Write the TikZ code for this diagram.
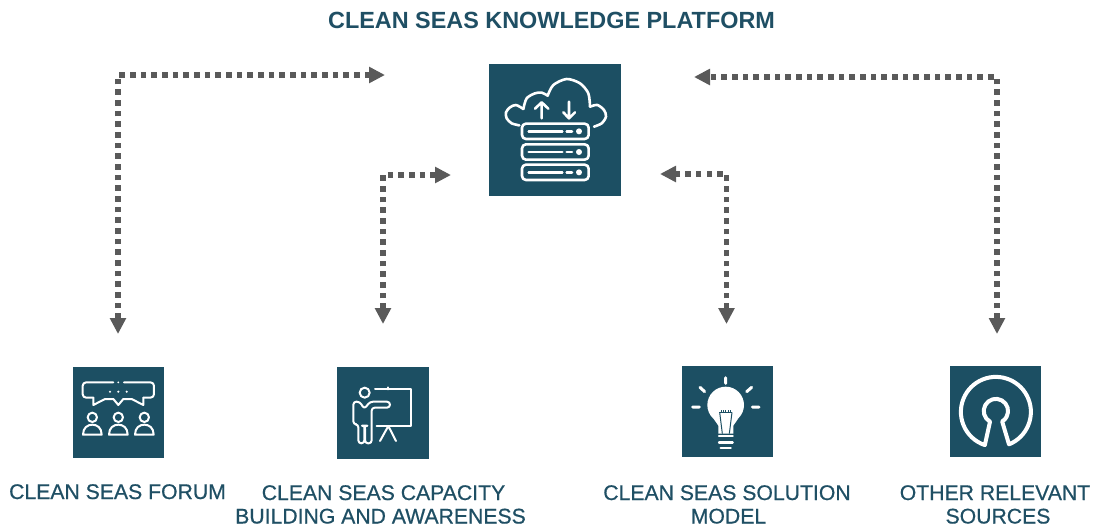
\documentclass[tikz,border=0pt]{standalone}
\usepackage{fontspec}
\setmainfont{Liberation Sans}
\newfontfamily\medfont[RawFeature={embolden=0.6}]{Liberation Sans}
\usetikzlibrary{arrows.meta}
\definecolor{teal}{HTML}{1C4F63}
\definecolor{ink}{HTML}{1F4F64}
\definecolor{arrowgray}{HTML}{5A5A5A}
\tikzset{
  iconbox/.style={fill=teal,draw=none,minimum width=#1,minimum height=#1,inner sep=0pt,outer sep=0pt,anchor=center},
  lbl/.style={text=ink,font=\fontsize{21.2}{23.5}\medfont,align=center,anchor=base,inner sep=0pt},
  ttl/.style={text=ink,font=\fontsize{23.4}{26}\selectfont\bfseries,anchor=base,inner sep=0pt},
  link/.style={draw=arrowgray,line width=5.6pt,dash pattern=on 5.6pt off 5.07pt,
    {Triangle[length=16pt,width=15.5pt]}-{Triangle[length=16pt,width=15.5pt]}},
  ico/.style={draw=white,line width=2pt,line cap=round,line join=round},
  icob/.style={draw=white,line width=2.6pt,line cap=round,line join=round},
}
\begin{document}
\begin{tikzpicture}[x=1pt,y=-1pt]
\useasboundingbox (0,0) rectangle (1096,528);
% title
\node[ttl] (title) at (551.5,28.5) {CLEAN SEAS KNOWLEDGE PLATFORM};
% icon boxes
\node[iconbox=132pt] (hub) at (555,130) {};
\node[iconbox=91pt] (forum) at (118.5,412.5) {};
\node[iconbox=92pt] (capacity) at (383,413.3) {};
\node[iconbox=91pt] (solution) at (727.3,411.3) {};
\node[iconbox=91pt] (other) at (995.3,411.3) {};
% labels
\node[lbl] (lforum) at (117.5,499) {CLEAN SEAS FORUM};
\node[lbl] (lcap) at (380.5,523.5) {\hspace*{6pt}CLEAN SEAS CAPACITY\\BUILDING AND AWARENESS};
\node[lbl] (lsol) at (727,523.5) {CLEAN SEAS SOLUTION\\\hspace*{3pt}MODEL};
\node[lbl] (loth) at (995,523.5) {OTHER RELEVANT\\\hspace*{6pt}SOURCES};
% connector ends
\coordinate (a1) at (118,334); \coordinate (a1c) at (118,75); \coordinate (b1) at (385,75);
\coordinate (a2) at (383,324); \coordinate (a2c) at (383,175); \coordinate (b2) at (451,175);
\coordinate (a3) at (726.5,324); \coordinate (a3c) at (726.5,174); \coordinate (b3) at (660,174);
\coordinate (a4) at (997,334); \coordinate (a4c) at (997,77); \coordinate (b4) at (694,77);
\draw[link] (a1) -- (a1c) -- (b1);
\draw[link] (a2) -- (a2c) -- (b2);
\draw[link] (a3) -- (a3c) -- (b3);
\draw[link] (a4) -- (a4c) -- (b4);
% hub icon
\begin{scope}[shift={(480,55)},xscale=1/3,yscale=1/3]
\draw[icob] plot[smooth] coordinates {(118,211) (95,205) (80,190) (78,172) (90,157) (108,150) (130,162)};
\draw[icob] plot[smooth] coordinates {(130,162) (140,130) (165,115) (185,113) (203,122)};
\draw[icob] plot[smooth] coordinates {(203,122) (220,90) (260,72) (300,85) (325,115) (330,155)};
\draw[icob] plot[smooth] coordinates {(330,155) (352,150) (372,165) (378,185) (365,205) (342,215)};
\draw[icob] (185,190) -- (185,145) (165,161) -- (185,142) -- (205,161);
\draw[icob] (267,140) -- (267,188) (250,172) -- (267,190) -- (285,172);
\foreach \yy in {229,291,352}{
  \draw[icob,rounded corners=4pt] (126,\yy-23) rectangle (326,\yy+23);
  \draw[icob] (146,\yy) -- (247,\yy) (260,\yy) -- (276,\yy);
  \fill[white] (297,\yy) circle[radius=9];
}
\end{scope}
% forum icon
\begin{scope}[shift={(60,355)},xscale=1/3,yscale=1/3]
\draw[ico,rounded corners=3.5pt] (160,82) -- (68,82) -- (68,128) -- (100,128);
\draw[ico] (100,128) -- (100,150) -- (135,132) -- (160,132) -- (175,150) -- (190,132) -- (215,132)
  -- (250,150) -- (250,128);
\draw[ico,rounded corners=3.5pt] (250,128) -- (282,128) -- (282,82) -- (192,82);
\foreach \xx in {150,175,200} \fill[white] (\xx,110) circle[radius=3.5];
\fill[white] (175,82) circle[radius=3];
\foreach \xx in {97,175,253}{
  \draw[ico] (\xx,187) circle[radius=14];
  \draw[ico] (\xx-28,239) .. controls (\xx-28,218) and (\xx-14,209) .. (\xx,209)
     .. controls (\xx+14,209) and (\xx+28,218) .. (\xx+28,239) -- cycle;
}
\end{scope}
% capacity icon
\begin{scope}[shift={(325,355)},xscale=1/3,yscale=1/3]
\draw[ico] (119,113) circle[radius=15];
\draw[ico] (150,103) -- (257,103) -- (257,213) -- (155,213);
\draw[ico] (190,97) -- (190,103);
\draw[ico] (165,258) -- (190,213) -- (213,258);
\draw[ico,rounded corners=3pt] (118,162) -- (104,140) -- (85,140) -- (85,208) -- (100,208)
  -- (100,265) -- (118,265) -- (118,212) -- (120,212) -- (120,265) -- (140,265) -- (140,158) -- (195,158)
  -- (195,140) -- (135,140) -- cycle;
\end{scope}
% solution icon
\begin{scope}[shift={(670,355)},xscale=1/3,yscale=1/3]
\fill[white] (167,150) circle[radius=55];
\fill[white] (130,190) -- (145,212) -- (145,236) -- (190,236) -- (190,212) -- (205,190) -- cycle;
\draw[teal,line width=1pt] (148,172) -- (187,172) (153,172) -- (153,165) (160,172) -- (160,165) (167,172) -- (167,165) (174,172) -- (174,165) (181,172) -- (181,165);
\draw[teal,line width=1pt] (149,172) -- (157,236) (186,172) -- (178,236);
\foreach \a/\b/\c in {147/188/243,147/188/262,152/182/279}
  \draw[white,line width=2.4pt,line cap=round] (\a,\c) -- (\b,\c);
\draw[white,line width=3pt,line cap=round] (167,68) -- (167,85) (90,97) -- (104,110) (245,97) -- (230,110) (68,156) -- (88,156) (247,156) -- (267,156);
\end{scope}
% other icon
\begin{scope}[shift={(940,355)},xscale=1/3,yscale=1/3]
\draw[white,line width=4pt,line join=round] (207,268) arc[start angle=68,end angle=-251.6,radius=105]
  -- (150,200) arc[start angle=119,end angle=419,radius=36.5] -- cycle;
\end{scope}
\end{tikzpicture}
\end{document}
